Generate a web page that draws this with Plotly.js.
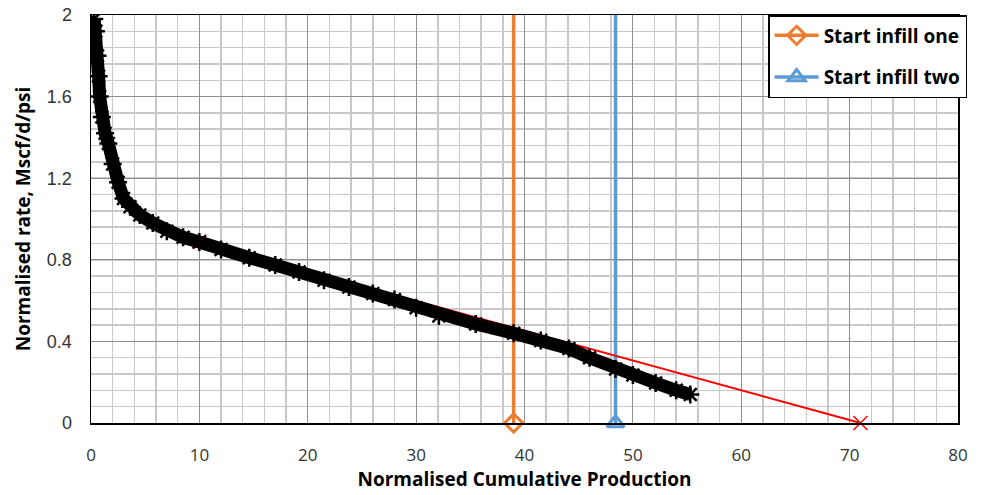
<!DOCTYPE html>
<html>
<head>
<meta charset="utf-8">
<script src="https://cdn.plot.ly/plotly-3.0.1.min.js"></script>
<style>html,body{margin:0;padding:0;background:#fff;}#chart{width:984px;height:495px;}</style>
</head>
<body>
<div id="chart"></div>
<script>
// Normalised cumulative production (x) vs normalised rate (y)
const prodX = [0.3, 0.45, 0.6, 0.7, 0.8, 1.0, 1.3, 1.6, 2.0, 2.5, 3.0, 3.6, 4.5, 5.7, 7.0, 8.5, 10.0, 12.0, 14.6, 17.0, 19.2, 21.5, 23.8, 26.0, 28.0, 30.0, 32.1, 35.5, 39.0, 41.5, 44.1, 46.0, 48.4, 50.0, 52.1, 54.0, 55.3];
const rateY = [1.98, 1.92, 1.80, 1.70, 1.60, 1.50, 1.42, 1.37, 1.27, 1.18, 1.10, 1.06, 1.02, 0.98, 0.94, 0.91, 0.887, 0.85, 0.81, 0.775, 0.74, 0.70, 0.667, 0.635, 0.605, 0.565, 0.525, 0.485, 0.44, 0.405, 0.365, 0.32, 0.265, 0.235, 0.196, 0.16, 0.14];

// Straight-line extrapolation (red)
const trendX = [10.0, 71.0];
const trendY = [0.89, 0.0];

// Infill start markers
const infillOneX = [39.0, 39.0];
const infillOneY = [0, 2.5];
const infillTwoX = [48.4, 48.4];
const infillTwoY = [0, 2.5];

const seriesNames = ["Start infill one", "Start infill two"];
const xTitle = "Normalised Cumulative Production";
const yTitle = "Normalised rate, Mscf/d/psi";
const yTickVals = [0, 0.4, 0.8, 1.2, 1.6, 2];
const yTickText = ["0", "0.4", "0.8", "1.2", "1.6", "2"];

const boldFont = "'Open Sans', Lato, sans-serif";

const traces = [
  {
    x: infillOneX, y: infillOneY, name: seriesNames[0], type: "scatter", mode: "lines+markers",
    line: {color: "#ED7D31", width: 3.5},
    marker: {symbol: "diamond-open", size: 14, color: "#ED7D31", line: {width: 3, color: "#ED7D31"}},
    cliponaxis: false, legendgroup: "a"
  },
  {
    x: infillTwoX, y: infillTwoY, name: seriesNames[1], type: "scatter", mode: "lines+markers",
    line: {color: "#5B9BD5", width: 3.5},
    marker: {symbol: "triangle-up-open", size: 15, color: "#5B9BD5", line: {width: 3, color: "#5B9BD5"}},
    cliponaxis: false, legendgroup: "b"
  },
  {
    x: trendX, y: trendY, type: "scatter", mode: "lines+markers", showlegend: false,
    line: {color: "#FF0000", width: 2},
    marker: {symbol: "x-thin-open", size: 14, color: "#FF0000", line: {width: 1.5, color: "#FF0000"}},
    cliponaxis: false
  },
  {
    x: prodX, y: rateY, type: "scatter", mode: "lines+markers", showlegend: false,
    line: {color: "#000000", width: 13},
    marker: {symbol: "asterisk-open", size: 15, color: "#000000", line: {width: 2.5, color: "#000000"}}
  }
];

const layout = {
  width: 984, height: 495,
  margin: {l: 91, r: 26, t: 15, b: 72},
  paper_bgcolor: "#fff", plot_bgcolor: "#fff",
  showlegend: true,
  legend: {
    x: 0.781, y: 1, xanchor: "left", yanchor: "top",
    bgcolor: "#fff", bordercolor: "#000", borderwidth: 1.5,
    font: {family: boldFont, size: 19, color: "#000", weight: "bold"},
    tracegroupgap: 14, itemwidth: 44, traceorder: "grouped"
  },
  xaxis: {
    range: [0, 80], tick0: 0, dtick: 10, showline: true, linecolor: "#000", linewidth: 1.5, mirror: true,
    showgrid: true, gridcolor: "#8f8f8f", gridwidth: 1, zeroline: false,
    ticks: "", ticklabelstandoff: 16,
    tickfont: {family: "'Open Sans', Lato, sans-serif", size: 17, color: "#333"},
    minor: {dtick: 2, showgrid: true, gridcolor: "#c9c9c9", gridwidth: 1.5},
    title: {text: xTitle, standoff: 8, font: {family: boldFont, size: 19, color: "#000", weight: "bold"}}
  },
  yaxis: {
    range: [0, 2], tickvals: yTickVals, ticktext: yTickText, showline: true, linecolor: "#000", linewidth: 1.5, mirror: true,
    showgrid: true, gridcolor: "#8f8f8f", gridwidth: 1, zeroline: false,
    ticks: "", ticklabelstandoff: 14,
    tickfont: {family: "'Liberation Sans', Arial, sans-serif", size: 18, color: "#333"},
    minor: {dtick: 0.08, tick0: 0, showgrid: true, gridcolor: "#c9c9c9", gridwidth: 1.5},
    title: {text: yTitle, standoff: 11, font: {family: boldFont, size: 19, color: "#000", weight: "bold"}}
  }
};

Plotly.newPlot("chart", traces, layout, {displayModeBar: false, staticPlot: true});
</script>
</body>
</html>
